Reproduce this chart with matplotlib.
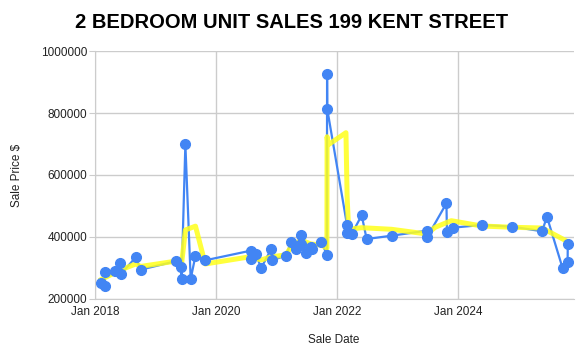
import matplotlib
matplotlib.use('Agg')
import matplotlib.pyplot as plt
import matplotlib.dates as mdates
import pandas as pd

plt.rcParams['font.family'] = ['Liberation Sans', 'DejaVu Sans']

# sales (blue)
sale_dates = ['2018-02-05', '2018-02-25', '2018-03-01', '2018-05-01', '2018-06-01', '2018-06-03',
              '2018-09-01', '2018-10-01', '2019-04-30', '2019-06-01', '2019-06-05', '2019-06-28',
              '2019-07-30', '2019-08-28', '2019-10-26', '2020-07-26', '2020-07-28', '2020-08-28',
              '2020-09-27', '2020-11-28', '2020-11-30', '2021-02-24', '2021-03-28', '2021-04-26',
              '2021-05-26', '2021-05-28', '2021-06-25', '2021-07-26', '2021-07-30', '2021-09-27',
              '2021-10-30', '2021-10-31', '2021-11-01', '2022-02-28', '2022-03-01', '2022-03-28',
              '2022-05-28', '2022-06-27', '2022-11-25', '2023-06-25', '2023-06-27', '2023-10-22',
              '2023-10-25', '2023-11-28', '2024-05-22', '2024-11-24', '2025-05-22', '2025-06-20',
              '2025-09-23', '2025-10-23', '2025-10-24']
sale_prices = [250000, 243000, 286000, 291000, 315000, 280000,
               334500, 294600, 321600, 304000, 264500, 699000,
               264500, 339700, 324800, 355800, 329000, 346000,
               299000, 362000, 324800, 339700, 384000, 362000,
               405500, 377400, 347400, 368700, 360000, 383900,
               343000, 926800, 813000, 439700, 414000, 408700,
               470000, 393500, 404200, 420300, 399000, 508700,
               416000, 430000, 438700, 433200, 418400, 465500,
               299000, 320300, 377400]

# trend (yellow)
trend_dates = ['2018-02-05', '2018-06-01', '2018-09-01', '2018-10-01', '2019-04-30', '2019-06-01',
               '2019-06-28', '2019-08-28', '2019-10-26', '2020-07-26', '2020-09-27', '2020-11-28',
               '2021-02-24', '2021-03-28', '2021-05-26', '2021-07-26', '2021-09-27', '2021-10-30',
               '2021-10-31', '2021-11-05', '2022-02-22', '2022-03-01', '2022-03-10', '2022-05-28',
               '2022-11-25', '2023-06-25', '2023-08-15', '2023-11-20', '2024-05-22', '2024-11-24',
               '2025-05-22', '2025-10-24']
trend_prices = [263000, 293500, 313000, 305000, 322000, 293500,
                422600, 435000, 313000, 336500, 325800, 336000,
                342000, 368700, 390000, 377400, 374000, 364000,
                723500, 696800, 736500, 530000, 424800, 430000,
                424800, 409700, 431300, 452600, 435500, 431300,
                429000, 384800]

sd = pd.to_datetime(sale_dates)
td = pd.to_datetime(trend_dates)

fig = plt.figure(figsize=(5.84, 3.53), dpi=100)
ax = fig.add_axes([0.1635, 0.153, 0.8195, 0.7025])

ax.plot(sd, sale_prices, color='#4285f4', linewidth=1.6, zorder=2)
ax.plot(td, trend_prices, color='#ffff1a', linewidth=3.6, alpha=0.85, zorder=3)
ax.plot(sd, sale_prices, color='#4285f4', linestyle='none', marker='o', markersize=7, zorder=4)

ax.set_ylim(200000, 1000000)
ax.set_yticks([200000, 400000, 600000, 800000, 1000000])
ax.set_xlim(pd.Timestamp('2018-01-01'), pd.Timestamp('2025-12-01'))
ax.xaxis.set_major_locator(mdates.YearLocator(2))
ax.xaxis.set_major_formatter(mdates.DateFormatter('%b %Y'))
ax.yaxis.set_major_formatter(matplotlib.ticker.FuncFormatter(lambda v, p: f'{int(v)}'))

ax.grid(color='#cccccc', linewidth=1)
ax.set_axisbelow(True)
for s in ['top', 'right']:
    ax.spines[s].set_visible(False)
for s in ['left', 'bottom']:
    ax.spines[s].set_color('#cccccc')
ax.tick_params(axis='y', length=4, color='#cccccc', labelsize=8.5, labelcolor='#222222', pad=2)
ax.tick_params(axis='x', length=0, labelsize=8.5, labelcolor='#222222', pad=5)

fig.text(0.5, 1 - 22 / 353, '2 BEDROOM UNIT SALES 199 KENT STREET', ha='center', va='center',
         fontsize=14.5, fontweight='bold')
fig.text(17 / 584, 1 - 175 / 353, 'Sale Price $', rotation=90, ha='center', va='center',
         fontsize=8.5, color='#222222')
fig.text(334 / 584, 1 - 340 / 353, 'Sale Date', ha='center', va='center', fontsize=8.5, color='#222222')

fig.savefig('out.png', dpi=100)
